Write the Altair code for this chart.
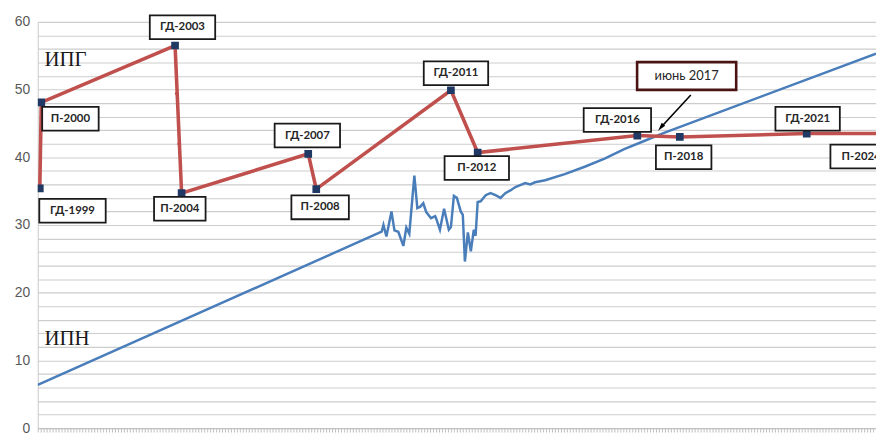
import altair as alt
import pandas as pd

# x: month index along the (unlabelled) time axis, y: index value
ipn_x = [0, 115.7, 116.3, 117.3, 119, 120, 121.3, 123, 124, 125, 126.7, 127.7, 128.7,
         129.7, 130.7, 132.3, 133.7, 134, 135.3, 136.7, 138.3, 139, 140, 141, 142.3,
         143, 143.7, 144.7, 145.7, 146.7, 147.3, 148, 149, 150.7, 152.3, 154, 155.7,
         157.3, 159, 160.7, 162.3, 164, 165.7, 167.3, 170.7, 177.3, 184, 190.7,
         197.3, 204, 210.7, 282]
ipn_y = [6.4, 29.0, 30.0, 28.3, 32.0, 29.2, 29.0, 26.9, 29.6, 28.7, 37.3, 32.5, 32.7,
         33.2, 31.9, 31.0, 31.3, 31.0, 29.3, 32.4, 29.3, 29.7, 34.3, 34.0, 32.0,
         31.5, 24.6, 28.9, 26.1, 29.3, 28.4, 33.4, 33.5, 34.4, 34.7, 34.4, 34.0,
         34.7, 35.1, 35.6, 35.9, 36.2, 36.0, 36.3, 36.6, 37.5, 38.6, 39.8,
         41.2, 42.4, 43.6, 55.3]

ipg_names = ["ГД-1999", "П-2000", "ГД-2003", "П-2004", "ГД-2007", "П-2008",
             "ГД-2011", "П-2012", "ГД-2016", "П-2018", "ГД-2021", "П-2024"]
ipg_x = [0.7, 1.2, 46.2, 48.4, 91, 93.7, 139, 148, 201.7, 216, 258.7, 292]
ipg_y = [35.4, 48.1, 56.5, 34.7, 40.5, 35.3, 49.9, 40.7, 43.2, 43.0, 43.5, 43.5]

# monthly intermediate markers visible on the 2003-2004 drop
mid_x = [46.8, 47.6]
mid_y = [49.4, 42.0]

# label box centres (data units) and box widths (px)
label_x = [11.7, 11.0, 48.7, 47.8, 90.7, 95.0, 140.7, 147.7, 195.0, 217.3, 259.0, 277.0]
label_y = [32.1, 45.7, 59.2, 32.4, 43.2, 32.6, 52.4, 38.4, 45.5, 40.0, 45.7, 40.1]
label_w = [67, 57, 66, 52, 66, 58, 65, 65, 68, 56, 65, 62]

note_text = "июнь 2017"
note_x, note_y = 218.3, 52.0
arrow_from = (219.7, 49.2)
arrow_to = (209.6, 44.4)

series_names = ["ИПГ", "ИПН"]
series_x = [2.3, 2.3]
series_y = [54.4, 13.2]

X_MAX = 282
xs = alt.Scale(domain=[0, X_MAX], nice=False, zero=False)
ys = alt.Scale(domain=[0, 60], nice=False, zero=True)

ipn_df = pd.DataFrame({"x": ipn_x, "y": ipn_y})
ipg_df = pd.DataFrame({"name": ipg_names, "x": ipg_x, "y": ipg_y})
mid_df = pd.DataFrame({"x": mid_x, "y": mid_y})


def box_path(w, h=24):
    r = h / w
    return f"M-1,-{r:.4f}L1,-{r:.4f}L1,{r:.4f}L-1,{r:.4f}Z"


lab_df = pd.DataFrame({
    "name": ipg_names, "x": label_x, "y": label_y,
    "shape": [box_path(w) for w in label_w],
    "size": [w * w for w in label_w],
})
note_df = pd.DataFrame({"t": [note_text], "x": [note_x], "y": [note_y],
                        "shape": [box_path(100, 28)], "size": [100 * 100]})
arrow_df = pd.DataFrame({"x": [arrow_from[0]], "y": [arrow_from[1]],
                         "x2": [arrow_to[0]], "y2": [arrow_to[1]]})
ser_df = pd.DataFrame({"t": series_names, "x": series_x, "y": series_y})

X = alt.X("x:Q", scale=xs, axis=alt.Axis(
    values=list(range(0, X_MAX + 1)), tickCount=2000, labels=False, title=None,
    grid=False, tickSize=4, tickColor="#b0b0b0", domainColor="#bfbfbf", tickWidth=0.8))
Y = alt.Y("y:Q", scale=ys, axis=alt.Axis(
    values=list(range(0, 61, 2)), tickCount=200, format="d",
    labelExpr="datum.value % 10 == 0 ? datum.label : ''", labelOverlap=False,
    title=None, ticks=False, grid=True, gridColor="#cdcdcd", gridWidth=1.1,
    domainColor="#c8c8c8", labelFontSize=14, labelColor="#595959",
    labelPadding=8, labelFont="Liberation Sans"))

blue = alt.Chart(ipn_df).mark_line(color="#4a7ebb", strokeWidth=2.5, clip=True).encode(
    x=X, y=Y, order="x:Q")
red = alt.Chart(ipg_df).mark_line(color="#c0504d", strokeWidth=3.6, clip=True).encode(
    x="x:Q", y="y:Q")
mids = alt.Chart(mid_df).mark_circle(color="#c0504d", size=16, opacity=1).encode(
    x="x:Q", y="y:Q")
squares = alt.Chart(ipg_df).mark_square(color="#1f3864", size=60, opacity=1, clip=True).encode(
    x="x:Q", y="y:Q")

boxes = alt.Chart(lab_df).mark_point(filled=True, fill="white", stroke="#1a1a1a",
                                     strokeWidth=1.8, opacity=1, fillOpacity=1,
                                     strokeOpacity=1).encode(
    x="x:Q", y="y:Q",
    shape=alt.Shape("shape:N", scale=None),
    size=alt.Size("size:Q", scale=None))
box_text = alt.Chart(lab_df).mark_text(font="Lato", fontWeight="bold", fontSize=11.5,
                                       color="#262626", baseline="middle").encode(
    x="x:Q", y="y:Q", text="name:N")

note_box = alt.Chart(note_df).mark_point(filled=True, fill="white", stroke="#4a1414",
                                         strokeWidth=2.6, opacity=1, fillOpacity=1,
                                         strokeOpacity=1).encode(
    x="x:Q", y="y:Q",
    shape=alt.Shape("shape:N", scale=None),
    size=alt.Size("size:Q", scale=None))
note_txt = alt.Chart(note_df).mark_text(font="Lato", fontSize=13, color="#262626",
                                        baseline="middle").encode(
    x="x:Q", y="y:Q", text="t:N")

arrow = alt.Chart(arrow_df).mark_rule(color="black", strokeWidth=1.6).encode(
    x="x:Q", y="y:Q", x2="x2:Q", y2="y2:Q")
head = alt.Chart(arrow_df).mark_point(shape="M0,-1L0.55,1L-0.55,1Z", filled=True,
                                      color="black", size=70, angle=220,
                                      opacity=1).encode(
    x="x2:Q", y="y2:Q")

ser_txt = alt.Chart(ser_df).mark_text(font="Liberation Serif", fontSize=21,
                                      color="#1a1a1a", align="left",
                                      baseline="middle").encode(
    x="x:Q", y="y:Q", text="t:N")

chart = alt.layer(blue, red, mids, squares, arrow, head, boxes, box_text,
                  note_box, note_txt, ser_txt).properties(
    width=846, height=410,
    autosize=alt.AutoSizeParams(type="none"),
    padding={"left": 30, "top": 12, "right": 0, "bottom": 4},
    background="white",
).configure_view(stroke=None)

chart.save("out.html", embed_options={"renderer": "svg", "actions": False})
